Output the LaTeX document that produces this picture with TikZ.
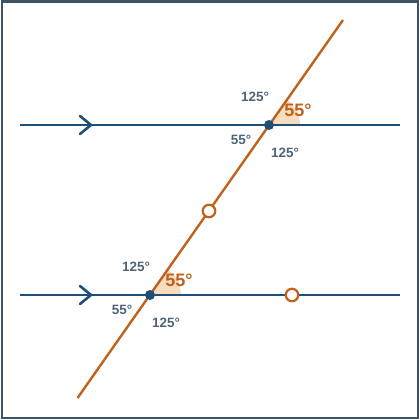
\documentclass[tikz,border=0pt]{standalone}
\usepackage{fontspec}
\setmainfont{Liberation Sans}
\usetikzlibrary{calc}
\begin{document}
\begin{tikzpicture}[x=1pt,y=-1pt,
  parline/.style={draw=lineblue,line width=2.6pt},
  transv/.style={draw=tor,line width=2.4pt},
  chev/.style={draw=lineblue,line width=2.6pt,line cap=round,line join=round},
  lbl/.style={text=lblgray,font=\bfseries\fontsize{13.5}{13.5}\selectfont,inner sep=0pt},
  biglbl/.style={text=tor,font=\bfseries\fontsize{18}{18}\selectfont,inner sep=0pt},
  ptdot/.style={circle,fill=lineblue,inner sep=0pt,minimum size=10pt},
  ocirc/.style={circle,draw=tor,fill=white,line width=2.2pt,inner sep=0pt,minimum size=12.5pt},
  wedge/.style={fill=peach}]
\definecolor{lineblue}{HTML}{1F4E79}
\definecolor{tor}{HTML}{C0621C}
\definecolor{lblgray}{HTML}{4F6478}
\definecolor{peach}{HTML}{F7DCC0}
\definecolor{frame}{HTML}{3E5266}
\useasboundingbox (0,0) rectangle (420,420);
\draw[frame,line width=2.2pt] (2,1.5) rectangle (418,418);
% wedges
\fill[wedge] (269,125) -- ++(31,0) arc[start angle=0,end angle=-55,radius=31] -- cycle;
\fill[wedge] (150,295) -- ++(31,0) arc[start angle=0,end angle=-55,radius=31] -- cycle;
% coordinates
\coordinate (a1) at (20,125);
\coordinate (a2) at (400,125);
\coordinate (b1) at (20,295);
\coordinate (b2) at (400,295);
\coordinate (t1) at (77.5,398);
\coordinate (t2) at (343,20);
\draw[parline] (a1) -- (a2);
\draw[parline] (b1) -- (b2);
\draw[transv] (t1) -- (t2);
% chevrons
\coordinate (c1) at (91,125);
\coordinate (c2) at (91,295);
\draw[chev] ($(c1)+(-11,-9)$) -- (c1) -- ($(c1)+(-11,9)$);
\draw[chev] ($(c2)+(-11,-9)$) -- (c2) -- ($(c2)+(-11,9)$);
% points
\node[ptdot] (P) at (269,125) {};
\node[ptdot] (Q) at (150,295) {};
\node[ocirc] (o1) at (209,211) {};
\node[ocirc] (o2) at (292,295) {};
% labels upper
\node[lbl] (u1) at (255,97) {125°};
\node[biglbl] (u2) at (298,110) {55°};
\node[lbl] (u3) at (241,140) {55°};
\node[lbl] (u4) at (285,153) {125°};
% labels lower
\node[lbl] (l1) at (136,267) {125°};
\node[biglbl] (l2) at (179,280) {55°};
\node[lbl] (l3) at (122,310) {55°};
\node[lbl] (l4) at (166,323) {125°};
\end{tikzpicture}
\end{document}
